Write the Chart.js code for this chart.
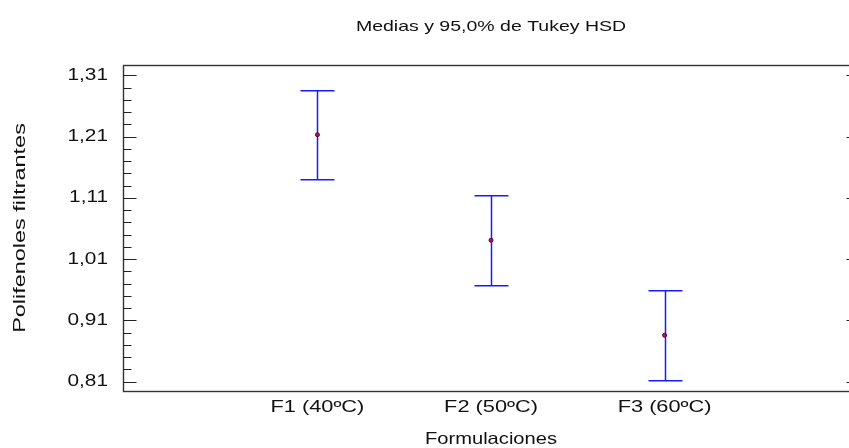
<!DOCTYPE html>
<html>
<head>
<meta charset="utf-8">
<script src="https://cdn.jsdelivr.net/npm/chart.js@4.4.0/dist/chart.umd.min.js"></script>
<style>
  html, body { margin: 0; padding: 0; background: #fff; overflow: hidden; }
  #wrap { width: 849px; height: 448px; overflow: hidden; position: relative; }
  canvas { display: block; }
</style>
</head>
<body>
<div id="wrap"><canvas id="c" width="870" height="448"></canvas></div>
<script>
// ---- data ----
const categories = ['F1 (40ºC)', 'F2 (50ºC)', 'F3 (60ºC)'];
const means = [1.2133, 1.0409, 0.8858];
const lower = [1.1410, 0.9674, 0.8128];
const upper = [1.2863, 1.1144, 0.9593];
const yTickValues = [0.81, 0.91, 1.01, 1.11, 1.21, 1.31];
const yMinorValues = [0.81, 0.83, 0.85, 0.87, 0.89, 0.91, 0.93, 0.95, 0.97, 0.99, 1.01, 1.03, 1.05, 1.07, 1.09, 1.11, 1.13, 1.15, 1.17, 1.19, 1.21, 1.23, 1.25, 1.27, 1.29, 1.31];
const titleText = 'Medias y 95,0% de Tukey HSD';
const xTitle = 'Formulaciones';
const yTitle = 'Polifenoles filtrantes';

// ---- wide text (reference font is stretched along the text direction) ----
const canvas = document.getElementById('c');
const ctx = canvas.getContext('2d');
const SX = 1.3;
const sxFor = (t) => {
  if (t === yTitle) return 1.42;
  if (t === xTitle) return 1.22;
  if (categories.includes(t)) return 1.36;
  return SX;
};
const origFill = ctx.fillText.bind(ctx);
const origMeasure = ctx.measureText.bind(ctx);
ctx.fillText = function (t, x, y) {
  const s = sxFor(String(t));
  ctx.save();
  ctx.translate(x, y);
  ctx.scale(s, 1);
  origFill(t, 0, 0);
  ctx.restore();
};
ctx.measureText = function (t) {
  const s = sxFor(String(t));
  const m = origMeasure(t);
  return {
    width: m.width * s,
    actualBoundingBoxAscent: m.actualBoundingBoxAscent,
    actualBoundingBoxDescent: m.actualBoundingBoxDescent,
    actualBoundingBoxLeft: m.actualBoundingBoxLeft * s,
    actualBoundingBoxRight: m.actualBoundingBoxRight * s,
    fontBoundingBoxAscent: m.fontBoundingBoxAscent,
    fontBoundingBoxDescent: m.fontBoundingBoxDescent
  };
};

const FONT = "'Liberation Sans', Arial, sans-serif";

const errorBars = {
  id: 'errorBars',
  beforeDatasetsDraw(chart) {
    const { ctx: c, scales: { x, y } } = chart;
    c.save();
    c.strokeStyle = '#1a1aff';
    c.lineWidth = 1.5;
    c.lineCap = 'butt';
    for (let i = 0; i < categories.length; i++) {
      const px = Math.round(x.getPixelForValue(i + 1)) + 0.5;
      const pt = Math.round(y.getPixelForValue(upper[i])) + 0.7;
      const pb = Math.round(y.getPixelForValue(lower[i])) + 0.7;
      const hw = 17;
      c.beginPath();
      c.moveTo(px, pt); c.lineTo(px, pb);
      c.moveTo(px - hw, pt); c.lineTo(px + hw, pt);
      c.moveTo(px - hw, pb); c.lineTo(px + hw, pb);
      c.stroke();
    }
    c.restore();
  }
};

const frame = {
  id: 'frame',
  afterDraw(chart) {
    const { ctx: c, chartArea: a, scales: { y } } = chart;
    c.save();
    c.strokeStyle = '#333333';
    c.lineWidth = 1.4;
    const L = Math.round(a.left) + 0.5, R = Math.round(a.right) + 0.5;
    const T = Math.round(a.top) + 0.5, B = Math.round(a.bottom) + 0.5;
    c.strokeRect(L, T, R - L, B - T);
    c.lineWidth = 1;
    c.strokeStyle = '#222222';
    c.beginPath();
    yMinorValues.forEach(v => {
      const py = Math.round(y.getPixelForValue(v)) + 0.5;
      const major = yTickValues.some(t => Math.abs(t - v) < 1e-6);
      c.moveTo(L, py); c.lineTo(L + (major ? 13 : 8), py);
      if (major) { c.moveTo(R, py); c.lineTo(R - 13, py); }
    });
    c.stroke();
    c.restore();
  }
};

new Chart(canvas, {
  type: 'scatter',
  data: {
    datasets: [{
      data: means.map((m, i) => ({ x: i + 1, y: m })),
      pointRadius: 2,
      pointHoverRadius: 2,
      pointBackgroundColor: '#a0204a',
      pointBorderColor: '#600030',
      pointBorderWidth: 1,
      showLine: false
    }]
  },
  options: {
    responsive: false,
    animation: false,
    events: [],
    layout: { padding: { left: 0, right: 11, top: 0, bottom: 0 } },
    plugins: {
      legend: { display: false },
      tooltip: { enabled: false },
      title: {
        display: true,
        text: titleText,
        fullSize: false,
        color: '#111',
        font: { family: FONT, size: 15, weight: 'normal', lineHeight: 1.2 },
        padding: { top: 17.5, bottom: 29.5 }
      }
    },
    scales: {
      x: {
        type: 'linear',
        min: -0.12,
        max: 4.12,
        afterFit(s) { s.height = 57; },
        afterBuildTicks(s) { s.ticks = categories.map((_, i) => ({ value: i + 1 })); },
        grid: { display: false, drawTicks: false },
        border: { display: false },
        ticks: {
          autoSkip: false,
          maxRotation: 0,
          padding: 7,
          color: '#111',
          font: { family: FONT, size: 16 },
          callback: (v) => categories[v - 1] ?? ''
        },
        title: {
          display: true,
          text: xTitle,
          color: '#111',
          font: { family: FONT, size: 16.5, lineHeight: 1 },
          padding: { top: 0, bottom: 0 }
        }
      },
      y: {
        type: 'linear',
        min: 0.7948,
        max: 1.3271,
        afterFit(s) { s.width = 123; },
        afterBuildTicks(s) { s.ticks = yTickValues.map(v => ({ value: v })); },
        grid: { display: false, drawTicks: false },
        border: { display: false },
        ticks: {
          padding: 15,
          color: '#111',
          font: { family: FONT, size: 16 },
          callback: (v) => v.toFixed(2).replace('.', ',')
        },
        title: {
          display: true,
          text: yTitle,
          color: '#111',
          font: { family: FONT, size: 16.5, lineHeight: 1.2 },
          padding: { top: 11, bottom: 0 }
        }
      }
    }
  },
  plugins: [errorBars, frame]
});
</script>
</body>
</html>
